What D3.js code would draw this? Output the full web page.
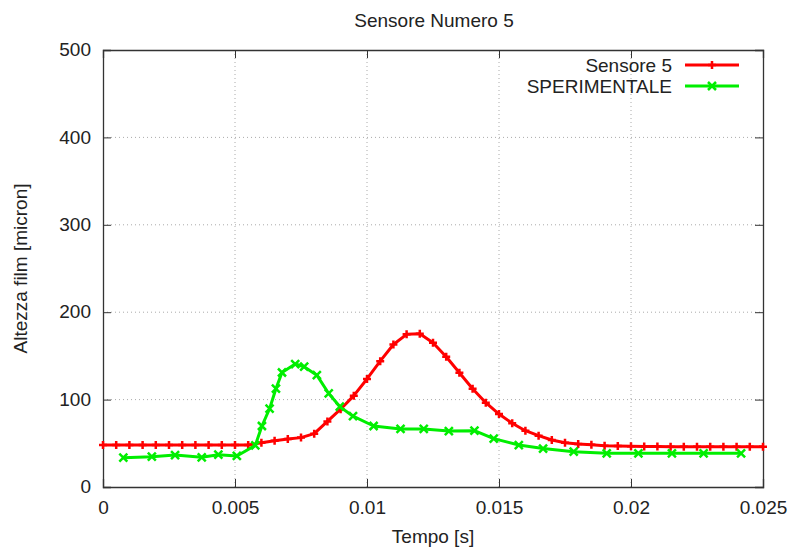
<!DOCTYPE html>
<html>
<head>
<meta charset="utf-8">
<script src="https://cdn.jsdelivr.net/npm/d3@7"></script>
<style>
  body { margin: 0; background: #fff; }
  text { font-family: "Liberation Sans", Arial, sans-serif; fill: #222; }
</style>
</head>
<body>
<div id="chart"></div>
<script>
// Sensore 5 (one point every 0.0005 s)
var sensoreT = d3.range(51).map(function (i) { return i * 0.0005; });
var sensoreH = [48, 48, 48, 48, 48, 48, 48, 48, 48, 48,
                48, 48, 50.7, 53, 55, 56.5, 61, 75, 89, 104.5,
                123.6, 144, 163, 174.7, 175.4, 165, 149, 130.8, 112.5, 96.5,
                83.5, 72.9, 64.4, 58.7, 53.8, 50.7, 49.2, 48.4, 47.3, 47,
                46.5, 46.3, 46.2, 46, 46, 46, 46, 46, 46, 46, 46];
// SPERIMENTALE
var speriT = [0.00077, 0.00185, 0.00273, 0.00374, 0.00437, 0.00507, 0.00577, 0.00602,
              0.00631, 0.00655, 0.00678, 0.00728, 0.00762, 0.0081, 0.00855, 0.00897,
              0.00947, 0.01025, 0.01127, 0.01215, 0.0131, 0.01407, 0.0148, 0.01575,
              0.01667, 0.01783, 0.01908, 0.02028, 0.02155, 0.02275, 0.02417];
var speriH = [33.6, 34.7, 36.6, 34, 37, 35.5, 47.7, 69.8,
              89.6, 112.5, 131, 140.7, 137.6, 128, 107, 92,
              81, 69.8, 66.4, 66.4, 64, 64.5, 55.3, 48,
              44, 40.4, 38.5, 38.5, 38.5, 38.5, 38.5];
var xTicks = [0, 0.005, 0.01, 0.015, 0.02, 0.025];
var yTicks = [0, 100, 200, 300, 400, 500];

var width = 793, height = 548;
var margin = {left: 103, right: 30, top: 50, bottom: 61};
var fontSize = "19px";

var svg = d3.select("#chart").append("svg")
    .attr("width", width).attr("height", height);

var x = d3.scaleLinear().domain([0, 0.025]).range([margin.left, width - margin.right]);
var y = d3.scaleLinear().domain([0, 500]).range([height - margin.bottom, margin.top]);

// grid
svg.append("g").selectAll("line").data(xTicks.slice(1, -1)).enter().append("line")
    .attr("x1", d => x(d)).attr("x2", d => x(d))
    .attr("y1", y(0)).attr("y2", y(500))
    .attr("stroke", "#aaa").attr("stroke-width", 1).attr("stroke-dasharray", "1,3");
svg.append("g").selectAll("line").data(yTicks.slice(1, -1)).enter().append("line")
    .attr("x1", x(0)).attr("x2", x(0.025))
    .attr("y1", d => y(d)).attr("y2", d => y(d))
    .attr("stroke", "#aaa").attr("stroke-width", 1).attr("stroke-dasharray", "1,3");

// axes (ticks inward, mirrored)
var fmtX = function (d) { return d === 0 ? "0" : d3.format("~g")(d); };
var axB = svg.append("g").attr("transform", "translate(0," + y(0) + ")")
    .call(d3.axisBottom(x).tickValues(xTicks).tickSize(-8).tickPadding(14).tickFormat(fmtX));
var axT = svg.append("g").attr("transform", "translate(0," + y(500) + ")")
    .call(d3.axisTop(x).tickValues(xTicks).tickSize(-8).tickFormat(""));
var axL = svg.append("g").attr("transform", "translate(" + x(0) + ",0)")
    .call(d3.axisLeft(y).tickValues(yTicks).tickSize(-8).tickPadding(12));
var axR = svg.append("g").attr("transform", "translate(" + x(0.025) + ",0)")
    .call(d3.axisRight(y).tickValues(yTicks).tickSize(-8).tickFormat(""));
[axB, axT, axL, axR].forEach(function (a) {
    a.selectAll("path").attr("stroke", "#333").attr("stroke-width", 1.3);
    a.selectAll("line").attr("stroke", "#333");
    a.selectAll("text").style("font-size", fontSize).style("font-family", "Liberation Sans, Arial, sans-serif").attr("fill", "#222");
});
axL.selectAll("text").attr("dy", "0.3em");

// series
var redData = sensoreT.map((t, i) => [t, sensoreH[i]]);
var greenData = speriT.map((t, i) => [t, speriH[i]]);
var line = d3.line().x(d => x(d[0])).y(d => y(d[1]));
var plusPath = "M-4,0H4M0,-4V4";
var crossPath = "M-4,-4L4,4M-4,4L4,-4";

function drawSeries(data, color, marker) {
    svg.append("path").datum(data).attr("d", line)
        .attr("fill", "none").attr("stroke", color).attr("stroke-width", 3)
        .attr("stroke-linejoin", "round");
    svg.append("g").selectAll("path").data(data).enter().append("path")
        .attr("transform", d => "translate(" + x(d[0]) + "," + y(d[1]) + ")")
        .attr("d", marker).attr("stroke", color).attr("stroke-width", 2.5).attr("fill", "none");
}
drawSeries(redData, "#ff0000", plusPath);
drawSeries(greenData, "#00ee00", crossPath);

// legend
var legend = [{name: "Sensore 5", color: "#ff0000", marker: plusPath},
              {name: "SPERIMENTALE", color: "#00ee00", marker: crossPath}];
legend.forEach(function (d, i) {
    var ly = 65 + i * 21;
    svg.append("text").attr("x", 672).attr("y", ly + 7).attr("text-anchor", "end")
        .style("font-size", fontSize).text(d.name);
    svg.append("line").attr("x1", 685).attr("x2", 739).attr("y1", ly).attr("y2", ly)
        .attr("stroke", d.color).attr("stroke-width", 3);
    svg.append("path").attr("transform", "translate(712," + ly + ")").attr("d", d.marker)
        .attr("stroke", d.color).attr("stroke-width", 2.5);
});

// titles
svg.append("text").attr("x", 434).attr("y", 27).attr("text-anchor", "middle")
    .style("font-size", fontSize).text("Sensore Numero 5");
svg.append("text").attr("x", 433).attr("y", 543).attr("text-anchor", "middle")
    .style("font-size", fontSize).text("Tempo [s]");
svg.append("text").attr("transform", "translate(27," + ((y(0) + y(500)) / 2) + ") rotate(-90)")
    .attr("text-anchor", "middle").style("font-size", fontSize).text("Altezza film [micron]");
</script>
</body>
</html>
